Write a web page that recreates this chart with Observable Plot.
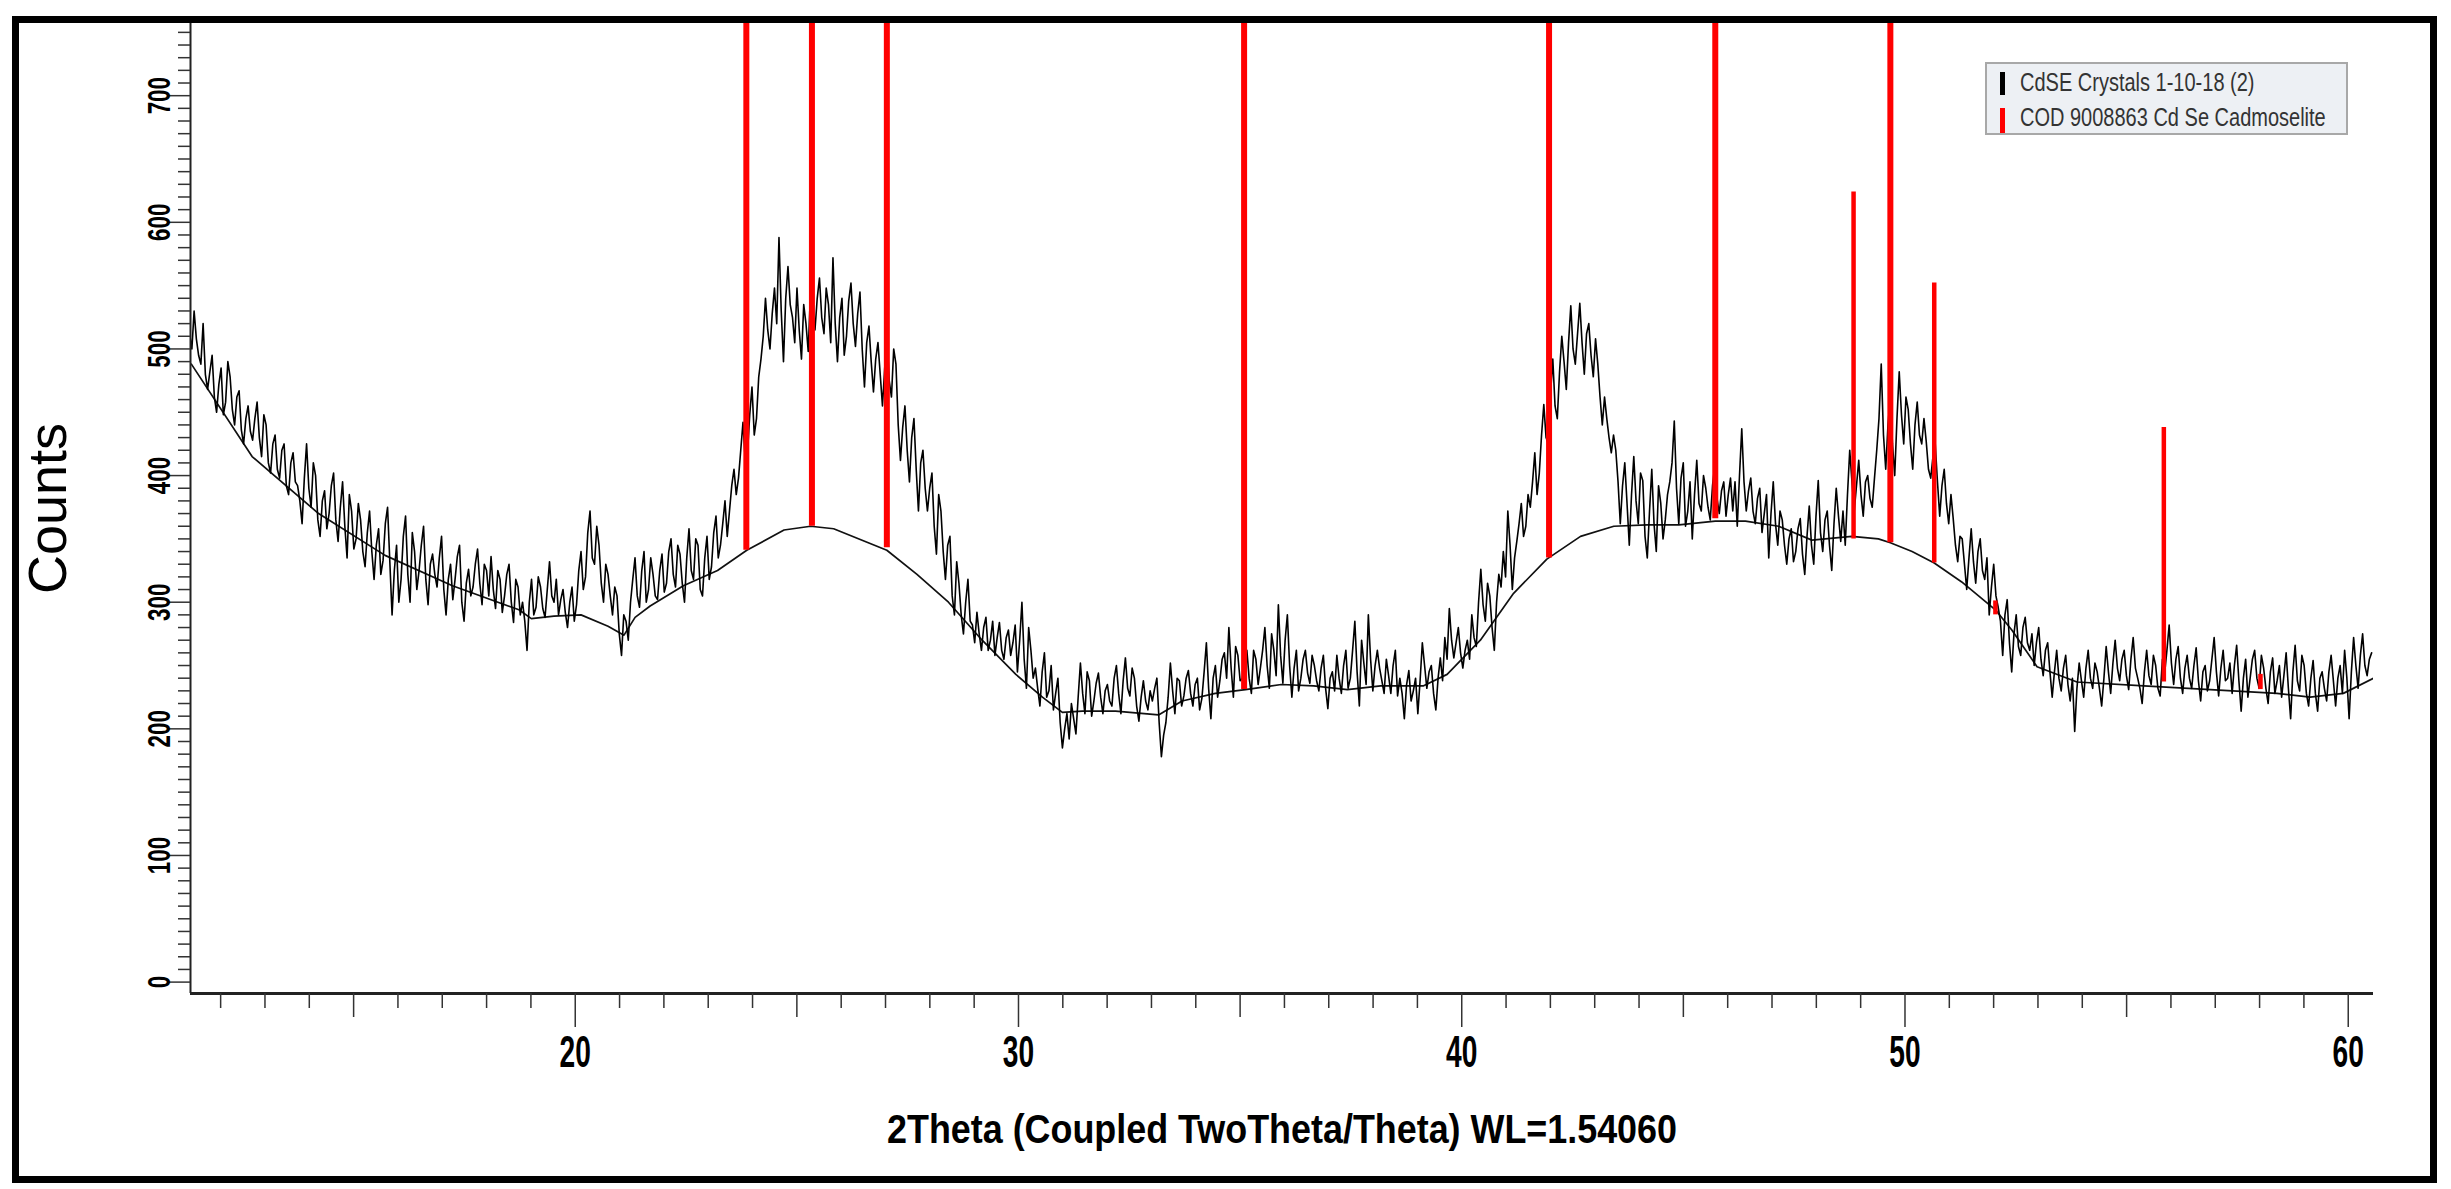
<!DOCTYPE html>
<html>
<head>
<meta charset="utf-8">
<script src="https://cdn.jsdelivr.net/npm/d3@7"></script>
<script src="https://cdn.jsdelivr.net/npm/@observablehq/plot@0.6"></script>
<style>
  html, body { margin: 0; padding: 0; background: #fff; }
  #wrap { position: relative; width: 2451px; height: 1189px; overflow: hidden; background: #fff; }
  #chart { position: absolute; left: 0; top: 0; }
  #border { position: absolute; left: 12px; top: 16px; width: 2425px; height: 1167px; border: 7px solid #000; box-sizing: border-box; pointer-events: none; }
  #legend { position: absolute; left: 1985px; top: 62px; width: 363px; height: 73px; box-sizing: border-box;
            border: 2px solid #a8a8a8; background: #edf0f4;
            font-family: "Liberation Sans", Arial, sans-serif; font-size: 25px; line-height: 25px; color: #333; }
  #legend .row { position: absolute; left: 33px; white-space: nowrap; transform: scaleX(0.8); transform-origin: 0 0; }
  #legend .sw { position: absolute; left: 13px; width: 5px; }
</style>
</head>
<body>
<div id="wrap">
  <div id="chart"></div>
  <div id="legend"></div>
  <div id="border"></div>
</div>
<script>
// ---------------- data ----------------
const xTitle = "2Theta (Coupled TwoTheta/Theta) WL=1.54060";
const yTitle = "Counts";
const seriesNames = ["CdSE Crystals 1-10-18 (2)", "COD 9008863 Cd Se Cadmoselite"];
const seriesColors = ["#000000", "#ff0000"];

// measured scan: first angle and sampling step of the values read below
const scanStart = 11.3;
const scanStep = 0.1015;
const counts = [
  512, 530, 495, 520,
  468, 495, 450, 485, 458, 478, 440, 467, 425, 455,
  428, 458, 415, 440, 402, 432, 398, 425, 385, 418,
  392, 362, 425, 375, 400, 352, 388, 370, 402, 348,
  395, 335, 372, 350, 365, 328, 372, 318, 358, 333,
  375, 290, 345, 318, 368, 300, 340, 325, 360, 298,
  338, 312, 352, 290, 330, 318, 345, 285, 326, 312,
  342, 298, 325, 336, 295, 318, 305, 330, 284, 312,
  300, 262, 318, 296, 312, 288, 332, 300, 290, 310,
  280, 312, 298, 340, 320, 372, 330, 345, 300, 322,
  290, 305, 258, 285, 300, 335, 296, 340, 310, 322,
  302, 338, 315, 350, 312, 338, 300, 358, 318, 345,
  305, 352, 328, 368, 345, 380, 372, 405, 398, 442,
  418, 470, 445, 492, 540, 500, 548, 588, 490, 565,
  525, 548, 492, 520, 545, 515, 556, 512, 535, 572,
  490, 540, 510, 552, 502, 545, 470, 518, 466, 505,
  455, 510, 462, 488, 412, 455, 395, 445, 372, 420,
  372, 402, 338, 372, 318, 352, 290, 315, 275, 318,
  282, 292, 262, 288, 270, 258, 284, 255, 278, 268,
  245, 300, 232, 262, 248, 218, 260, 230, 215, 240,
  185, 212, 220, 196, 252, 212, 238, 222, 244, 212,
  235, 218, 250, 212, 256, 226, 240, 206, 238, 215,
  222, 240, 178, 205, 252, 212, 238, 226, 246, 218,
  240, 224, 268, 208, 250, 238, 260, 280, 225, 258,
  240, 262, 228, 255, 248, 280, 232, 262, 298, 236,
  290, 225, 262, 240, 262, 236, 250, 230, 258, 216,
  245, 258, 228, 262, 240, 285, 218, 252, 290, 230,
  262, 238, 255, 228, 262, 240, 208, 246, 230, 212,
  268, 232, 250, 215, 256, 272, 295, 256, 280, 248,
  270, 290, 265, 326, 285, 305, 262, 322, 340, 372,
  310, 348, 378, 360, 375, 418, 402, 456, 425, 492,
  445, 510, 468, 534, 488, 536, 480, 520, 478, 488,
  440, 445, 418, 420, 362, 410, 345, 415, 362, 396,
  335, 405, 340, 378, 365, 395, 443, 362, 410, 372,
  350, 412, 372, 390, 365, 408, 370, 395, 385, 372,
  360, 437, 372, 398, 362, 390, 370, 335, 395, 345,
  365, 330, 358, 340, 366, 322, 376, 330, 396, 340,
  372, 325, 390, 348, 345, 420, 372, 412, 368, 400,
  375, 420, 488, 405, 462, 400, 482, 425, 452, 405,
  458, 425, 427, 398, 425, 368, 405, 362, 366, 332,
  350, 310, 358, 315, 350, 318, 290, 330, 296, 258,
  302, 245, 290, 258, 288, 262, 250, 280, 242, 268,
  225, 262, 230, 258, 222, 198, 252, 225, 262, 232,
  245, 218, 265, 228, 270, 238, 262, 231, 272, 240,
  220, 262, 235, 250, 226, 244, 282, 235, 265, 228,
  258, 232, 264, 222, 250, 238, 272, 226, 262, 240,
  228, 266, 214, 255, 240, 262, 232, 248, 220, 256,
  238, 225, 260, 208, 266, 230, 250, 218, 254, 214,
  245, 222, 258, 218, 250, 262, 208, 272, 232, 275,
  242, 260
];
// readings taken halfway between consecutive samples above
const countsBetween = [
  500, 508, 488, 480,
  482, 462, 472, 448, 490, 452, 462, 436, 445, 435,
  445, 430, 448, 410, 425, 405, 420, 392, 410, 395,
  380, 398, 390, 410, 365, 380, 358, 392, 365, 375,
  360, 385, 342, 378, 340, 355, 340, 345, 322, 362,
  332, 325, 300, 352, 322, 355, 310, 345, 318, 330,
  322, 335, 310, 318, 302, 336, 300, 315, 305, 330,
  315, 330, 305, 310, 325, 292, 322, 300, 318, 290,
  285, 300, 290, 320, 295, 310, 305, 318, 302, 292,
  300, 285, 325, 310, 355, 335, 360, 315, 330, 305,
  312, 275, 290, 270, 318, 305, 325, 300, 335, 305,
  325, 308, 340, 322, 345, 315, 335, 325, 350, 310,
  335, 318, 355, 335, 362, 352, 392, 385, 420, 412,
  448, 432, 478, 510, 515, 528, 520, 530, 540, 535,
  505, 515, 535, 498, 528, 540, 525, 548, 505, 520,
  525, 495, 538, 520, 528, 500, 505, 490, 492, 480,
  485, 475, 500, 440, 438, 420, 430, 405, 410, 390,
  390, 360, 385, 340, 345, 305, 332, 290, 300, 285,
  268, 275, 280, 262, 285, 272, 262, 272, 258, 282,
  270, 255, 280, 240, 232, 245, 225, 250, 228, 205,
  200, 192, 208, 225, 228, 245, 210, 236, 225, 230,
  222, 240, 228, 238, 232, 248, 218, 225, 222, 230,
  232, 205, 195, 225, 230, 240, 218, 240, 228, 235,
  215, 245, 232, 240, 225, 255, 240, 248, 265, 238,
  250, 240, 262, 235, 262, 250, 275, 242, 258, 270,
  250, 248, 230, 255, 244, 258, 238, 248, 232, 240,
  230, 240, 250, 232, 262, 245, 270, 235, 255, 250,
  248, 228, 242, 250, 226, 228, 235, 222, 240, 238,
  250, 245, 228, 240, 238, 255, 270, 268, 260, 262,
  255, 272, 300, 298, 315, 280, 300, 312, 320, 345,
  335, 362, 352, 385, 395, 385, 432, 430, 465, 455,
  482, 490, 505, 500, 512, 505, 512, 495, 508, 462,
  462, 430, 432, 395, 392, 378, 385, 380, 402, 352,
  372, 362, 392, 350, 385, 410, 390, 398, 360, 395,
  385, 378, 400, 375, 392, 382, 388, 368, 398, 395,
  400, 395, 388, 372, 382, 355, 385, 370, 362, 372,
  345, 350, 332, 358, 338, 352, 345, 368, 355, 365,
  345, 362, 368, 372, 385, 395, 392, 385, 395, 382,
  398, 445, 432, 440, 425, 445, 448, 462, 425, 440,
  432, 445, 405, 415, 395, 392, 378, 385, 345, 352,
  330, 335, 332, 340, 325, 335, 312, 305, 285, 290,
  268, 275, 265, 280, 268, 275, 268, 255, 262, 245,
  245, 240, 248, 235, 240, 232, 238, 248, 240, 252,
  232, 240, 245, 252, 248, 255, 242, 255, 248, 232,
  245, 242, 258, 232, 255, 262, 252, 255, 240, 248,
  240, 250, 238, 245, 230, 255, 245, 248, 238, 252,
  250, 238, 240, 225, 255, 240, 258, 232, 245, 228,
  250, 242, 232, 245, 238, 258, 228, 240, 228, 240,
  232, 245, 238, 240, 228, 240, 245, 250, 258, 250,
  255
];

// fitted background curve
const bgTheta  = [11.34, 12.71, 14.21, 15.71, 17.23, 18.73, 19.01, 19.52, 20.13, 20.74, 21.10, 21.35, 21.69, 22.44, 23.21, 23.87, 24.71, 25.31, 25.83, 27.03, 27.71, 28.42, 29.18, 29.94, 30.54, 30.99, 31.44, 32.19, 33.16, 33.69, 34.44, 35.12, 35.93, 36.66, 37.42, 38.17, 39.14, 39.67, 40.42, 41.17, 41.92, 42.68, 43.43, 44.18, 44.90, 45.72, 46.40, 47.15, 47.90, 48.80, 49.40, 49.67, 50.16, 50.66, 51.28, 52.04, 52.41, 52.98, 53.88, 55.39, 56.89, 58.39, 59.14, 59.89, 60.57];
const bgCounts = [488, 415, 370, 337, 313, 294, 287, 289, 290, 281, 274, 288, 297, 313, 325, 341, 357, 360, 358, 341, 322, 300, 270, 243, 225, 213, 214, 214, 211, 222, 228, 231, 235, 234, 231, 234, 234, 243, 270, 307, 334, 352, 360, 361, 361, 364, 364, 360, 349, 352, 350, 347, 340, 331, 316, 294, 278, 249, 237, 234, 231, 228, 225, 228, 240];

// reference pattern sticks (COD 9008863): position, base, top
const stickTheta = [23.86, 25.34, 27.03, 35.09, 41.97, 45.72, 49.67, 48.84, 50.66, 52.04, 55.84, 58.02];
const stickBase  = [341, 360, 343, 231, 335, 366, 347, 350, 331, 290, 237, 231];
const stickTop   = [1000, 1000, 1000, 1000, 1000, 1000, 1000, 624, 552, 301, 438, 243];
const stickStrong = [true, true, true, true, true, true, true, false, false, false, false, false];

// axes
const xDomain = [11.32, 60.57];
const yDomain = [-9, 757];
const xTickLabels = [20, 30, 40, 50, 60];
const yTickLabels = [0, 100, 200, 300, 400, 500, 600, 700];

// ---------------- build ----------------
const FONT = '"Liberation Sans", Arial, sans-serif';
const scan = [];
counts.forEach((c, i) => {
  scan.push({t: scanStart + i * scanStep, c});
  if (i < countsBetween.length) scan.push({t: scanStart + (i + 0.5) * scanStep, c: countsBetween[i]});
});
const bg = bgTheta.map((t, i) => ({t, c: bgCounts[i]}));
const sticks = stickTheta.map((t, i) => ({t, b: stickBase[i], h: stickTop[i], strong: stickStrong[i]}));

const xMinor = d3.range(12, 61, 1).filter(d => d % 5 !== 0);
const xMid = d3.range(15, 61, 10);
const xMajor = d3.range(20, 61, 10);
const yMinor = d3.range(0, 751, 10).filter(d => d % 100 !== 0);
const yMajor = d3.range(0, 701, 100);

const chart = Plot.plot({
  width: 2451,
  height: 1189,
  marginLeft: 190,
  marginRight: 78,
  marginTop: 23,
  marginBottom: 196,
  x: {domain: xDomain, axis: null, label: null},
  y: {domain: yDomain, axis: null, label: null},
  style: {background: "transparent", overflow: "visible", fontFamily: FONT},
  marks: [
    Plot.line(bg, {x: "t", y: "c", stroke: "#111", strokeWidth: 1.7, clip: true}),
    Plot.line(scan, {x: "t", y: "c", stroke: "#000", strokeWidth: 1.6, clip: true}),
    Plot.ruleX(sticks.filter(d => d.strong), {x: "t", y1: "b", y2: "h", stroke: seriesColors[1], strokeWidth: 6, clip: true}),
    Plot.ruleX(sticks.filter(d => !d.strong), {x: "t", y1: "b", y2: "h", stroke: seriesColors[1], strokeWidth: 4.5, clip: true}),
    Plot.ruleY([yDomain[0]], {stroke: "#222", strokeWidth: 3}),
    Plot.ruleX([xDomain[0]], {stroke: "#222", strokeWidth: 2}),
    Plot.axisX(xMinor, {tickSize: 15, tickFormat: () => "", stroke: "#333", strokeWidth: 1.5, label: null}),
    Plot.axisX(xMid, {tickSize: 24, tickFormat: () => "", stroke: "#333", strokeWidth: 1.5, label: null}),
    Plot.axisX(xMajor, {tickSize: 34, tickFormat: () => "", stroke: "#333", strokeWidth: 1.5, label: null}),
    Plot.axisY(yMinor, {tickSize: 12, tickFormat: () => "", stroke: "#333", strokeWidth: 1.5, label: null}),
    Plot.axisY(yMajor, {tickSize: 22, tickFormat: () => "", stroke: "#333", strokeWidth: 1.5, label: null}),
    Plot.text(xTickLabels, {x: d => d, text: d => String(d), frameAnchor: "bottom", dy: 42, lineAnchor: "top",
      fontSize: 44, fontWeight: "bold", fontFamily: FONT, fill: "#000"}),
    Plot.text(yTickLabels, {y: d => d, text: d => String(d), frameAnchor: "left", rotate: -90, dx: -21,
      textAnchor: "middle", lineAnchor: "bottom", fontSize: 32, fontWeight: "bold", fontFamily: FONT, fill: "#000"}),
    Plot.text([xTitle], {frameAnchor: "bottom", dy: 149, lineAnchor: "bottom", textAnchor: "middle",
      fontSize: 40, fontWeight: "bold", fontFamily: FONT, fill: "#000"}),
    Plot.text([yTitle], {frameAnchor: "left", rotate: -90, dx: -125, textAnchor: "middle", lineAnchor: "bottom",
      fontSize: 54, fontFamily: FONT, fill: "#000"})
  ]
});
document.getElementById("chart").appendChild(chart);

// condensed lettering as in the reference (narrow bold face of the original software)
const xLabelSet = new Set(xTickLabels.map(String));
const yLabelSet = new Set(yTickLabels.map(String));
chart.querySelectorAll("text").forEach(t => {
  const s = t.textContent;
  const rotated = (t.getAttribute("transform") || "").includes("rotate");
  let target = null;
  const L = t.getComputedTextLength();
  if (!L) return;
  if (s === xTitle) target = 790;
  else if (!rotated && xLabelSet.has(s)) target = L * 0.64;
  else if (rotated && yLabelSet.has(s)) target = L * 0.7;
  if (target == null) return;
  t.setAttribute("textLength", target.toFixed(1));
  t.setAttribute("lengthAdjust", "spacingAndGlyphs");
});

// legend
const legend = document.getElementById("legend");
const swTops = [8, 44], swHeights = [23, 25], rowTops = [6, 41];
seriesNames.forEach((name, i) => {
  const sw = document.createElement("div");
  sw.className = "sw";
  sw.style.top = swTops[i] + "px";
  sw.style.height = swHeights[i] + "px";
  sw.style.background = seriesColors[i];
  legend.appendChild(sw);
  const row = document.createElement("div");
  row.className = "row";
  row.style.top = rowTops[i] + "px";
  row.textContent = name;
  legend.appendChild(row);
});
</script>
</body>
</html>
